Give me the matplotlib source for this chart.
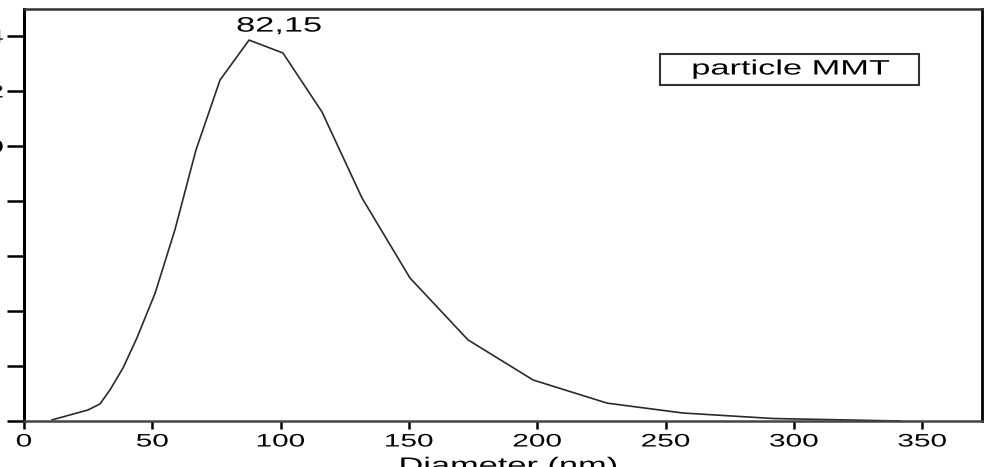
import matplotlib
matplotlib.use("Agg")
import matplotlib.pyplot as plt
from matplotlib.patches import Rectangle
from matplotlib.patheffects import AbstractPathEffect
from matplotlib.transforms import Affine2D

# particle size distribution
diameter = [10.9, 24.9, 29.6, 33.5, 38.6, 44.0, 51.1, 58.8, 67.0, 76.4, 87.7,
            100.9, 116.1, 131.7, 150.4, 173.0, 198.4, 227.2, 256.8, 292.0, 341.4]
intensity = [0.04, 0.40, 0.62, 1.13, 1.93, 3.02, 4.65, 6.95, 9.85, 12.40, 13.85,
             13.38, 11.24, 8.11, 5.20, 2.95, 1.49, 0.65, 0.29, 0.09, 0.0]
x_ticks = [0, 50, 100, 150, 200, 250, 300, 350]
y_ticks = [0, 2, 4, 6, 8, 10, 12, 14]
peak_label = "82,15"
series_name = "particle MMT"


class Stretch(AbstractPathEffect):
    """widen text horizontally about its centre (the source image is stretched)"""
    def __init__(self, sx):
        super().__init__()
        self.sx = sx

    def draw_path(self, renderer, gc, tpath, affine, rgbFace=None):
        ext = tpath.get_extents(affine)
        cx = (ext.x0 + ext.x1) / 2
        tr = affine + Affine2D().translate(-cx, 0).scale(self.sx, 1).translate(cx, 0)
        renderer.draw_path(gc, tpath, tr, rgbFace)


SX = 1.65
stretch = [Stretch(SX)]
plt.rcParams['font.family'] = ['Liberation Sans', 'DejaVu Sans']

fig = plt.figure(figsize=(9.95, 4.67), dpi=100)
ax = fig.add_axes([24 / 995, 46 / 467, 958 / 995, 412 / 467])

ax.plot(diameter, intensity, color='#2a2a2a', lw=1.2)
ax.set_xlim(0, 373.3)
ax.set_ylim(0, 14.98)
ax.set_xticks(x_ticks)
ax.set_yticks(y_ticks)
ax.tick_params(axis='x', direction='out', length=6, width=1.8, labelsize=13, pad=3)
ax.tick_params(axis='y', direction='out', length=12, width=1.8, labelsize=13, pad=7)
for lab in ax.get_xticklabels() + ax.get_yticklabels():
    lab.set_path_effects(stretch)

for side, c, w in [('left', 'black', 2.2), ('right', 'black', 2.0),
                   ('top', '#333333', 1.8), ('bottom', '#444444', 1.8)]:
    ax.spines[side].set_color(c)
    ax.spines[side].set_linewidth(w)

i_peak = intensity.index(max(intensity))
ax.annotate(peak_label, xy=(diameter[i_peak], intensity[i_peak]),
            xytext=(30, 14), textcoords='offset pixels', ha='center', va='center',
            fontsize=15, path_effects=stretch)

xl = ax.set_xlabel("Diameter (nm)", fontsize=15)
xl.set_path_effects(stretch)
ax.xaxis.set_label_coords(0.506, -0.087)

ax.add_patch(Rectangle((636 / 958, 336 / 412), 259 / 958, 31 / 412,
                       transform=ax.transAxes, fill=False, ec='#333333', lw=1.5))
ax.text(767 / 958, 352 / 412, series_name, transform=ax.transAxes,
        ha='center', va='center', fontsize=15, path_effects=stretch)

fig.savefig("out.png", dpi=100)
